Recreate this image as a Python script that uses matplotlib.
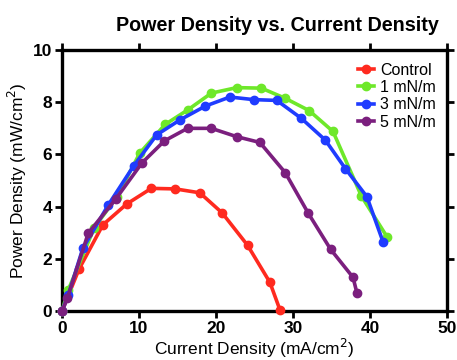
# -*- coding:UTF-8 -*-
# Power density vs current density polarisation curves
import matplotlib
matplotlib.use("Agg")
import matplotlib.pyplot as plt

plt.rcParams["font.family"] = ["Liberation Sans", "DejaVu Sans"]

# ---------------------------------------------------#
# data
# ---------------------------------------------------#
series_names = ["Control", "1 mN/m", "3 mN/m", "5 mN/m"]

control_x = [0, 2.2, 5.3, 8.4, 11.6, 14.7, 17.9, 20.8, 24.1, 27.0, 28.3]
control_y = [0, 1.6, 3.3, 4.1, 4.7, 4.68, 4.53, 3.76, 2.52, 1.1, 0.05]

n1_x = [0, 0.8, 4.2, 7.1, 10.1, 13.4, 16.4, 19.4, 22.7, 25.9, 29.0, 32.1, 35.2, 38.9, 42.2]
n1_y = [0, 0.8, 3.2, 4.36, 6.05, 7.15, 7.72, 8.35, 8.56, 8.54, 8.15, 7.68, 6.88, 4.4, 2.85]

n3_x = [0, 0.8, 2.7, 6.0, 9.3, 12.3, 15.3, 18.6, 21.8, 24.9, 27.9, 31.1, 34.2, 36.8, 39.6, 41.7]
n3_y = [0, 0.6, 2.4, 4.06, 5.56, 6.75, 7.32, 7.85, 8.2, 8.1, 8.07, 7.38, 6.55, 5.46, 4.38, 2.65]

n5_x = [0, 0.7, 3.4, 7.0, 10.4, 13.3, 16.3, 19.4, 22.7, 25.7, 29.0, 32.0, 34.9, 37.8, 38.3]
n5_y = [0, 0.5, 2.98, 4.3, 5.68, 6.52, 7.0, 7.0, 6.68, 6.46, 5.3, 3.74, 2.36, 1.29, 0.7]

colors = ["#ff2a1f", "#6ee82a", "#1f3cff", "#7b1f7e"]

# ---------------------------------------------------#
# figure
# ---------------------------------------------------#
fig = plt.figure(figsize=(4.57, 3.6), dpi=100)
ax = fig.add_axes([0.1357, 0.136, 0.8423, 0.725])

data = [(control_x, control_y), (n1_x, n1_y), (n3_x, n3_y), (n5_x, n5_y)]
for (xx, yy), name, col in zip(data, series_names, colors):
    ax.plot(xx, yy, color=col, lw=2.6, marker="o", ms=6, label=name,
            clip_on=False, zorder=3)

ax.set_xlim(0, 50)
ax.set_ylim(0, 10)
ax.set_xticks([0, 10, 20, 30, 40, 50])
ax.set_yticks([0, 2, 4, 6, 8, 10])
for sp in ax.spines.values():
    sp.set_linewidth(2.4)
ax.tick_params(axis="both", which="both", direction="out", length=5, width=2,
               top=True, right=True, labelsize=12.5, pad=2)
for lab in ax.get_xticklabels() + ax.get_yticklabels():
    lab.set_fontweight("bold")

ax.set_xlabel("Current Density (mA/cm$^2$)", fontsize=12.5, labelpad=1)
ax.set_ylabel("Power Density (mW/cm$^2$)", fontsize=12.5, labelpad=3)
ax.set_title("Power Density vs. Current Density", fontsize=14.2,
             fontweight="bold", pad=14, x=0.56)

ax.legend(loc="upper right", bbox_to_anchor=(1.0, 0.995), frameon=False,
          fontsize=11.5, handlelength=1.0, handletextpad=0.4,
          labelspacing=0.15, borderaxespad=0.3)

fig.savefig("out.png", dpi=100)
plt.close()
